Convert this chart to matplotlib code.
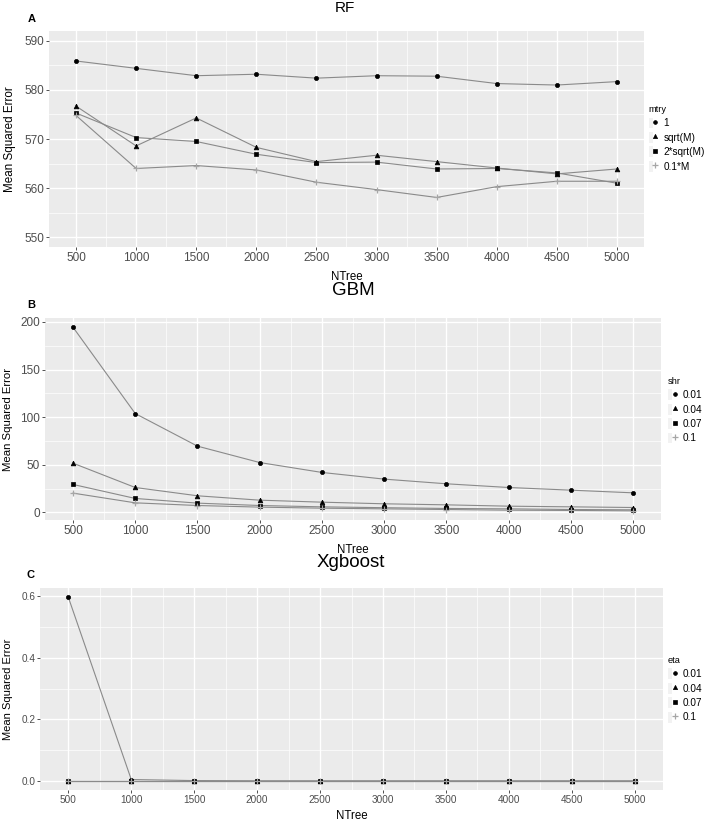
import matplotlib
matplotlib.use("Agg")
import matplotlib.pyplot as plt
from matplotlib.lines import Line2D
from matplotlib.patches import Rectangle
from matplotlib.legend_handler import HandlerTuple

ntree = [500, 1000, 1500, 2000, 2500, 3000, 3500, 4000, 4500, 5000]

# RF, by mtry
rf_labels = ["1", "sqrt(M)", "2*sqrt(M)", "0.1*M"]
rf_mtry_1 = [585.9, 584.4, 582.9, 583.2, 582.4, 582.9, 582.8, 581.3, 581.0, 581.7]
rf_sqrt_m = [576.7, 568.6, 574.3, 568.3, 565.4, 566.7, 565.4, 564.1, 562.9, 563.9]
rf_2sqrt_m = [575.3, 570.3, 569.5, 566.9, 565.2, 565.3, 563.9, 564.0, 563.1, 561.0]
rf_01_m = [574.8, 564.0, 564.6, 563.7, 561.2, 559.7, 558.1, 560.3, 561.4, 561.4]

# GBM, by shrinkage
gbm_labels = ["0.01", "0.04", "0.07", "0.1"]
shr_001 = [194.4, 103.8, 69.6, 52.4, 42.0, 35.0, 30.1, 26.2, 23.4, 20.6]
shr_004 = [51.7, 26.2, 17.5, 12.9, 10.8, 9.1, 8.0, 6.6, 5.9, 5.2]
shr_007 = [29.4, 14.7, 9.8, 7.3, 5.9, 5.0, 4.2, 3.8, 3.1, 2.8]
shr_01 = [20.3, 10.1, 7.3, 5.6, 4.5, 3.8, 3.1, 2.4, 2.1, 1.7]

# Xgboost, by eta
xgb_labels = ["0.01", "0.04", "0.07", "0.1"]
eta_001 = [0.597, 0.004, 0.0005, 0.0, 0.0, 0.0, 0.0, 0.0, 0.0, 0.0]
eta_004 = [0.0, 0.0, 0.0, 0.0, 0.0, 0.0, 0.0, 0.0, 0.0, 0.0]
eta_007 = [0.0, 0.0, 0.0, 0.0, 0.0, 0.0, 0.0, 0.0, 0.0, 0.0]
eta_01 = [0.0, 0.0, 0.0, 0.0, 0.0, 0.0, 0.0, 0.0, 0.0, 0.0]

plt.rcParams["font.family"] = ["Liberation Sans", "DejaVu Sans"]

markers = [("o", 3.0, "black"), ("^", 3.4, "black"), ("s", 3.0, "black"), ("+", 4.5, "#a6a6a6")]
line_col = "#8a8a8a"
bg = "#EBEBEB"
W, H = 708, 821


def panel(fig, rect, series, ylim, yticks, yminor, tick_fs, yfmt):
    ax = fig.add_axes(rect)
    ax.set_facecolor(bg)
    for s in ax.spines.values():
        s.set_visible(False)
    ax.set_xlim(275, 5225)
    ax.set_ylim(*ylim)
    ax.set_xticks(ntree)
    ax.set_xticks([750 + 500 * i for i in range(9)], minor=True)
    ax.set_yticks(yticks)
    ax.set_yticklabels([yfmt.format(v) for v in yticks])
    ax.set_yticks(yminor, minor=True)
    ax.grid(which="major", color="white", linewidth=1.0)
    ax.grid(which="minor", color="white", linewidth=0.5)
    ax.set_axisbelow(True)
    ax.tick_params(which="major", length=2.5, width=0.6, color="#333333",
                   labelcolor="#4D4D4D", labelsize=tick_fs, pad=1)
    ax.tick_params(which="minor", length=0)
    for ys, (m, ms, c) in zip(series, markers):
        ax.plot(ntree, ys, color=line_col, linewidth=0.8, zorder=2)
        ax.plot(ntree, ys, linestyle="none", marker=m, markersize=ms,
                color=c, markeredgewidth=0.9 if m == "+" else 0.5, zorder=3)
    return ax


def legend(ax, fig, title, labels, x, y, fs):
    handles = []
    for m, ms, c in markers:
        box = Rectangle((0, 0), 1, 1, facecolor="#F2F2F2", edgecolor="none")
        pt = Line2D([], [], linestyle="none", marker=m, markersize=ms * 0.9, color=c,
                    markeredgewidth=0.9 if m == "+" else 0.5)
        handles.append((box, pt))
    leg = ax.legend(handles, labels, title=title, loc="upper left",
                    bbox_to_anchor=(x, y), bbox_transform=fig.transFigure,
                    frameon=False, fontsize=fs, title_fontsize=fs - 0.5,
                    handlelength=0.9, handleheight=1.3, handletextpad=0.6,
                    labelspacing=0.35, borderpad=0, borderaxespad=0,
                    handler_map={tuple: HandlerTuple(ndivide=None, pad=0)})
    leg._legend_box.align = "left"


fig = plt.figure(figsize=(7.08, 8.21), dpi=100)

# A: RF
ax = panel(fig, [0.0692, 0.6991, 0.8404, 0.2631],
           [rf_mtry_1, rf_sqrt_m, rf_2sqrt_m, rf_01_m],
           (548, 592), [550, 560, 570, 580, 590], [555, 565, 575, 585], 8.5, "{:.0f}")
ax.set_xlabel("NTree", fontsize=8.3, labelpad=5)
fig.text(10 / W, 1 - 139 / H, "Mean Squared Error", rotation=90,
         ha="center", va="center", fontsize=8.4)
legend(ax, fig, "mtry", rf_labels, 0.916, 0.872, 7.2)
fig.text(0.487, 0.9905, "RF", ha="center", va="center", fontsize=11)
fig.text(0.039, 0.977, "A", ha="left", va="center", fontsize=8, fontweight="bold")

# B: GBM
lo = min(shr_01) - 0.05 * (max(shr_001) - min(shr_01))
hi = max(shr_001) + 0.05 * (max(shr_001) - min(shr_01))
ax = panel(fig, [0.0636, 0.3666, 0.870, 0.2460],
           [shr_001, shr_004, shr_007, shr_01],
           (lo, hi), [0, 50, 100, 150, 200], [25, 75, 125, 175], 8.5, "{:.0f}")
ax.set_xlabel("NTree", fontsize=8.3, labelpad=5)
fig.text(8 / W, 1 - 419 / H, "Mean Squared Error", rotation=90,
         ha="center", va="center", fontsize=8.2)
legend(ax, fig, "shr", gbm_labels, 0.9435, 0.541, 7.2)
fig.text(0.499, 0.6465, "GBM", ha="center", va="center", fontsize=13.5)
fig.text(0.038, 0.628, "B", ha="left", va="center", fontsize=8, fontweight="bold")

# C: Xgboost
ax = panel(fig, [0.0565, 0.0378, 0.880, 0.2460],
           [eta_001, eta_004, eta_007, eta_01],
           (-0.03, 0.627), [0.0, 0.2, 0.4, 0.6], [0.1, 0.3, 0.5], 7.2, "{:.1f}")
ax.set_xlabel("NTree", fontsize=8.3, labelpad=4)
fig.text(8 / W, 1 - 689 / H, "Mean Squared Error", rotation=90,
         ha="center", va="center", fontsize=8.0)
legend(ax, fig, "eta", xgb_labels, 0.9435, 0.201, 7.2)
fig.text(0.496, 0.3145, "Xgboost", ha="center", va="center", fontsize=13.5)
fig.text(0.038, 0.300, "C", ha="left", va="center", fontsize=8, fontweight="bold")

fig.savefig("out.png", dpi=100)
